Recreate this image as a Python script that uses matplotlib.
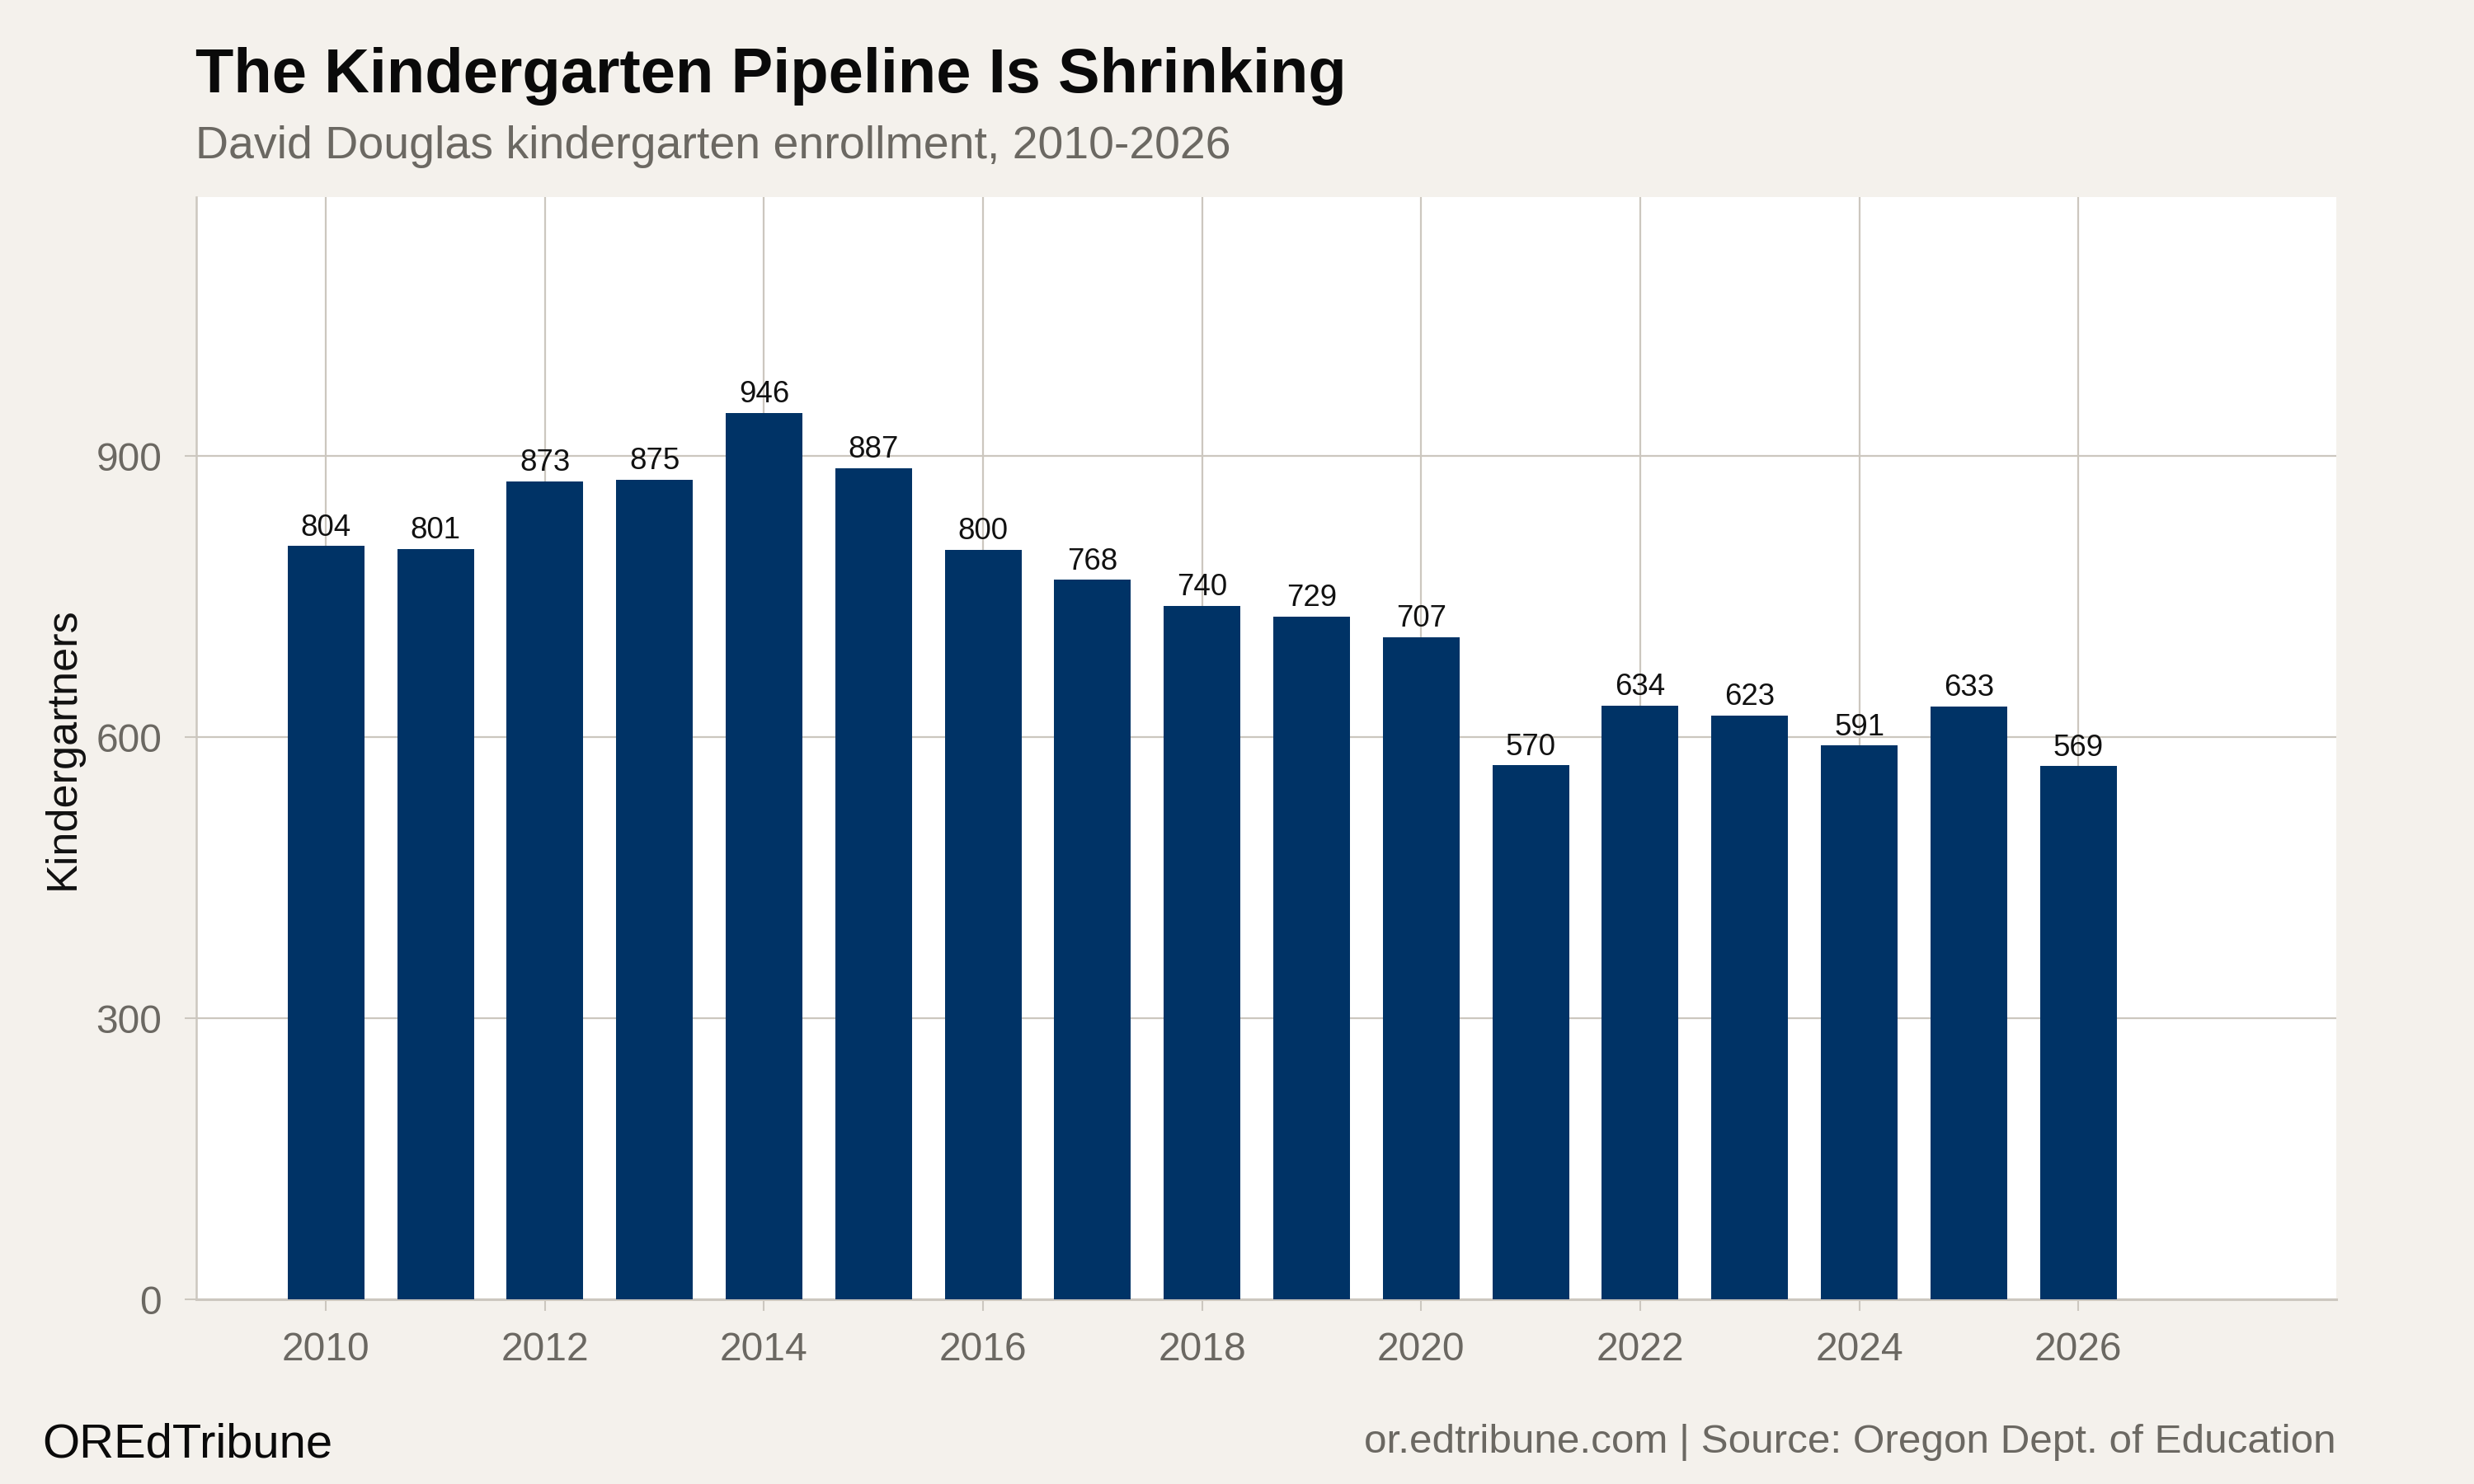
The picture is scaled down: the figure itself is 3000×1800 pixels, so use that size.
import matplotlib
matplotlib.use("Agg")
import matplotlib.pyplot as plt

years = [2010, 2011, 2012, 2013, 2014, 2015, 2016, 2017, 2018,
         2019, 2020, 2021, 2022, 2023, 2024, 2025, 2026]
kindergartners = [804, 801, 873, 875, 946, 887, 800, 768, 740,
                  729, 707, 570, 634, 623, 591, 633, 569]
x_ticks = [2010, 2012, 2014, 2016, 2018, 2020, 2022, 2024, 2026]
y_ticks = [0, 300, 600, 900]

title = "The Kindergarten Pipeline Is Shrinking"
subtitle = "David Douglas kindergarten enrollment, 2010-2026"
y_label = "Kindergartners"
brand = "OREdTribune"
caption = "or.edtribune.com | Source: Oregon Dept. of Education"

BG = "#F4F1EC"
BAR = "#003366"
GRID = "#CCC7BF"
GREY = "#6B6862"

plt.rcParams['font.family'] = ['Liberation Sans', 'DejaVu Sans']

fig = plt.figure(figsize=(15, 9), dpi=200, facecolor=BG)
ax = fig.add_axes([0.0793, 0.1244, 0.9443 - 0.0793, 0.8672 - 0.1244])
ax.set_facecolor("white")

bars = ax.bar(years, kindergartners, width=0.7, color=BAR, zorder=3)
for xv, yv in zip(years, kindergartners):
    ax.annotate(f"{yv}", (xv, yv), xytext=(0, 4.6), textcoords="offset points",
                ha="center", va="baseline", fontsize=13.2, color="#111111", zorder=4)

ax.set_xlim(2008.815, 2028.355)
ax.set_ylim(0, 1176.6)
ax.set_xticks(x_ticks)
ax.set_yticks(y_ticks)
ax.set_xticklabels([str(t) for t in x_ticks])
ax.set_yticklabels([str(t) for t in y_ticks])

ax.grid(True, color=GRID, linewidth=0.8, zorder=0)
ax.set_axisbelow(True)

for s in ["top", "right"]:
    ax.spines[s].set_visible(False)
ax.spines["left"].set_color(GRID)
ax.spines["left"].set_linewidth(0.9)
ax.spines["bottom"].set_color(GRID)
ax.spines["bottom"].set_linewidth(1.1)

ax.tick_params(axis="x", length=5, width=0.75, color=GRID, pad=9,
               labelsize=17.3, labelcolor=GREY)
ax.tick_params(axis="y", length=5, width=0.75, color=GRID, pad=10,
               labelsize=17.3, labelcolor=GREY)

ax.set_ylabel(y_label, fontsize=18.8, color="#111111")
ax.yaxis.set_label_coords(-0.0528, 0.5)

fig.text(0.079, 0.9378, title, fontsize=27.3, fontweight="bold",
         color="#0A0A0A", ha="left", va="baseline")
fig.text(0.079, 0.8933, subtitle, fontsize=20, color=GREY,
         ha="left", va="baseline")
fig.text(0.017, 0.0183, brand, fontsize=20.9, color="#0A0A0A",
         ha="left", va="baseline")
fig.text(0.9443, 0.021, caption, fontsize=17.8, color=GREY,
         ha="right", va="baseline")

fig.savefig("out.png", dpi=200, facecolor=BG)
